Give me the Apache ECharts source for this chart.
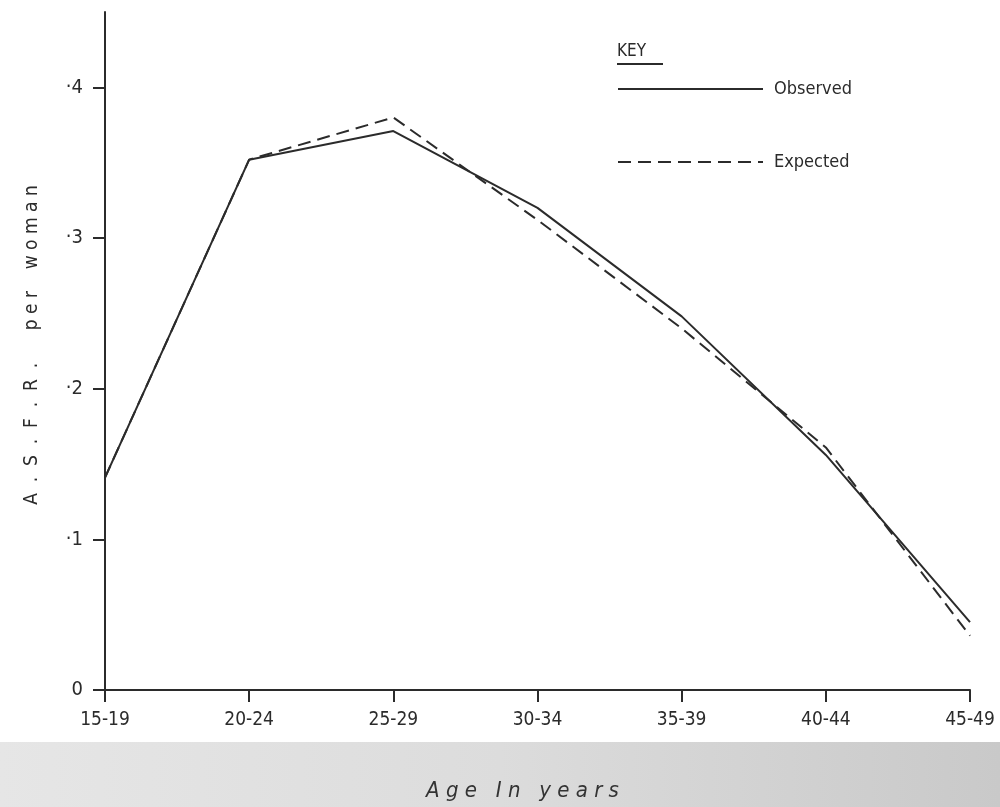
<!DOCTYPE html>
<html>
<head>
<meta charset="utf-8">
<script src="https://cdn.jsdelivr.net/npm/echarts@6/dist/echarts.min.js"></script>
<style>html,body{margin:0;padding:0;background:#fff}#c{width:1000px;height:807px}</style>
</head>
<body>
<div id="c"></div>
<script>
var categories = ['15-19', '20-24', '25-29', '30-34', '35-39', '40-44', '45-49'];
var observed = [0.141, 0.352, 0.371, 0.320, 0.248, 0.156, 0.045];
var expected = [0.141, 0.352, 0.380, 0.312, 0.240, 0.161, 0.036];
var yTickValues = [0, 0.1, 0.2, 0.3, 0.4];
var yTickLabels = ['0', '\u00b71', '\u00b72', '\u00b73', '\u00b74'];

var ink = '#2b2b2b';
var font = "'Liberation Sans Narrow','DejaVu Sans Condensed','Liberation Sans',sans-serif";

var chart = echarts.init(document.getElementById('c'));
chart.setOption({
  backgroundColor: '#ffffff',
  animation: false,
  graphic: [
    {
      type: 'rect', z: -10, silent: true,
      shape: { x: 0, y: 742, width: 1000, height: 65 },
      style: {
        fill: new echarts.graphic.LinearGradient(0, 0, 1, 0, [
          { offset: 0, color: '#e6e6e6' },
          { offset: 0.5, color: '#dcdcdc' },
          { offset: 1, color: '#c9c9c9' }
        ])
      }
    },
    {
      type: 'text', left: 617, top: 43,
      style: { text: 'KEY', font: '17px ' + font, fill: ink }
    },
    {
      type: 'line', silent: true,
      shape: { x1: 617, y1: 64, x2: 663, y2: 64 },
      style: { stroke: ink, lineWidth: 2 }
    },
    {
      type: 'text', x: 32, y: 345, rotation: Math.PI / 2,
      style: {
        text: 'A  .  S  .  F  .  R  .      p e r    w o m a n',
        font: '19px ' + font, fill: ink, align: 'center', verticalAlign: 'middle'
      }
    }
  ],
  legend: {
    orient: 'vertical',
    left: 612,
    top: 75,
    itemWidth: 145,
    itemHeight: 14,
    itemGap: 55,
    itemStyle: { opacity: 0 },
    textStyle: { fontFamily: font, fontSize: 18, color: ink, padding: [0, 0, 0, 6] },
    data: ['Observed', 'Expected']
  },
  grid: { left: 105, right: 30, top: 12, bottom: 111, containLabel: false },
  xAxis: {
    type: 'category',
    data: categories,
    boundaryGap: false,
    name: 'A g e   I n   y e a r s',
    nameLocation: 'middle',
    nameGap: 90,
    nameTextStyle: { fontFamily: font, fontSize: 22, fontStyle: 'italic', color: '#333', padding: [0, 30, 0, 0] },
    axisLine: { lineStyle: { color: ink, width: 2 } },
    axisTick: { alignWithLabel: true, length: 12, lineStyle: { color: ink, width: 2 } },
    axisLabel: { fontFamily: font, fontSize: 19, color: ink, margin: 21 },
    splitLine: { show: false }
  },
  yAxis: {
    type: 'value',
    min: 0,
    max: 0.45,
    interval: 0.1,
    axisLine: { show: true, lineStyle: { color: ink, width: 2 } },
    axisTick: { show: true, length: 12, customValues: yTickValues, lineStyle: { color: ink, width: 2 } },
    axisLabel: {
      customValues: yTickValues,
      fontFamily: font, fontSize: 20, color: ink, margin: 22,
      formatter: function (v) {
        for (var i = 0; i < yTickValues.length; i++) {
          if (Math.abs(v - yTickValues[i]) < 1e-9) return yTickLabels[i];
        }
        return '';
      }
    },
    splitLine: { show: false }
  },
  series: [
    {
      name: 'Observed', type: 'line', data: observed,
      symbol: 'none', smooth: false,
      lineStyle: { color: ink, width: 2 },
      itemStyle: { color: ink }
    },
    {
      name: 'Expected', type: 'line', data: expected,
      symbol: 'none', smooth: false,
      lineStyle: { color: ink, width: 2, type: [13, 7] },
      itemStyle: { color: ink }
    }
  ]
});
</script>
</body>
</html>
